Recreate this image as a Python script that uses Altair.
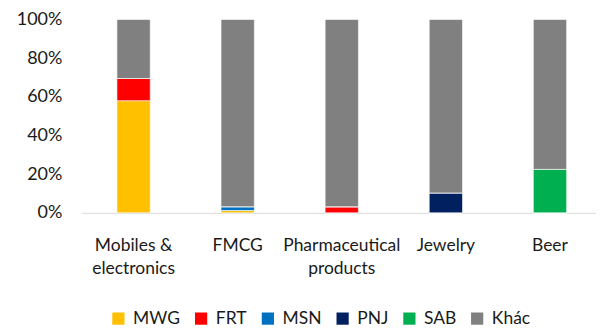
import altair as alt
import pandas as pd

categories = ["Mobiles & electronics", "FMCG", "Pharmaceutical products", "Jewelry", "Beer"]
series = ["MWG", "FRT", "MSN", "PNJ", "SAB", "Khác"]
colors = ["#FFC000", "#FF0000", "#0070C0", "#002060", "#00B050", "#808080"]

mwg = [58.0, 1.2, 0.0, 0.0, 0.0]
frt = [11.5, 0.0, 3.2, 0.0, 0.0]
msn = [0.0, 2.0, 0.0, 0.0, 0.0]
pnj = [0.0, 0.0, 0.0, 10.3, 0.0]
sab = [0.0, 0.0, 0.0, 0.0, 22.5]
khac = [30.5, 96.8, 96.8, 89.7, 77.5]

values = [mwg, frt, msn, pnj, sab, khac]
rows = []
for si, (name, vals) in enumerate(zip(series, values)):
    for cat, v in zip(categories, vals):
        rows.append({"category": cat, "series": name, "value": v, "order": si})
df = pd.DataFrame(rows)

FONT = "Lato"

chart = alt.Chart(df).mark_bar(stroke="white", strokeWidth=0.6).encode(
    x=alt.X(
        "category:N",
        sort=categories,
        title=None,
        scale=alt.Scale(paddingInner=0.68, paddingOuter=0.31, align=0.545),
        axis=alt.Axis(
            labelAngle=0,
            labelFont=FONT,
            labelFontSize=17.5,
            labelColor="#1a1a1a",
            labelPadding=24,
            labelLineHeight=23,
            labelBaseline="top",
            labelLimit=200,
            ticks=False,
            tickSize=0,
            domainColor="#D9D9D9",
            domainWidth=1,
            labelExpr="datum.label == 'Mobiles & electronics' ? ['Mobiles &', 'electronics'] : datum.label == 'Pharmaceutical products' ? ['Pharmaceutical', 'products'] : datum.label",
        ),
    ),
    y=alt.Y(
        "value:Q",
        stack="normalize",
        title=None,
        scale=alt.Scale(domain=[0, 1], nice=False),
        axis=alt.Axis(
            format=".0%",
            values=[0, 0.2, 0.4, 0.6, 0.8, 1.0],
            grid=False,
            domain=False,
            ticks=False,
            tickSize=0,
            labelPadding=20,
            labelFont=FONT,
            labelFontSize=18,
            labelColor="#1a1a1a",
        ),
    ),
    color=alt.Color(
        "series:N",
        sort=series,
        scale=alt.Scale(domain=series, range=colors),
        legend=alt.Legend(
            title=None,
            orient="none",
            direction="horizontal",
            legendX=28,
            legendY=291,
            symbolType="square",
            symbolSize=150,
            symbolStrokeWidth=0,
            labelFont=FONT,
            labelFontSize=17.5,
            labelColor="#1a1a1a",
            labelOffset=6,
            columnPadding=12,
        ),
    ),
    order=alt.Order("order:Q", sort="ascending"),
).properties(
    width=516,
    height=194,
    padding={"left": 74, "top": 11, "right": 0, "bottom": 115},
    autosize=alt.AutoSizeParams(type="none"),
).configure_view(stroke=None)

chart.save("out.html", embed_options={"renderer": "svg", "actions": False})
